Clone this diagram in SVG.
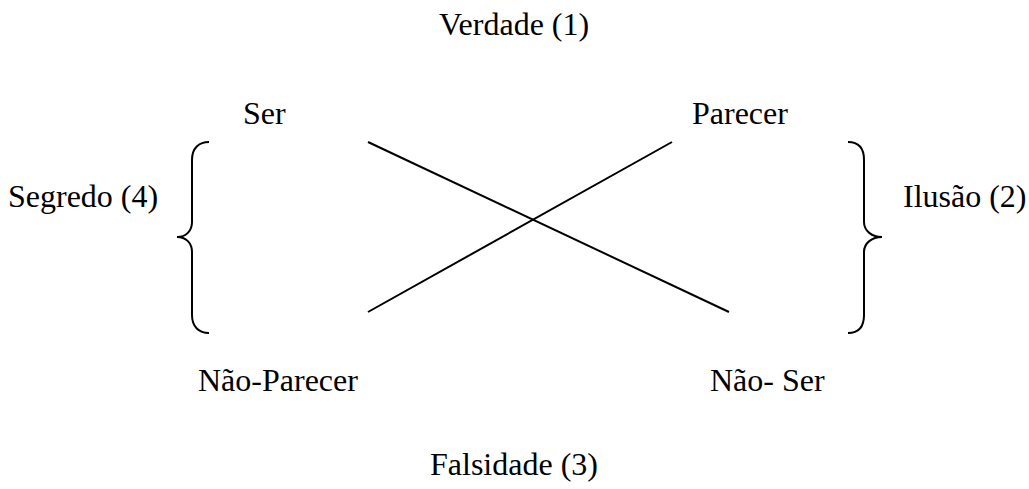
<svg xmlns="http://www.w3.org/2000/svg" width="1029" height="489" viewBox="0 0 1029 489">
<style>
text{font-family:"Liberation Serif","Times New Roman",serif;font-size:32px;fill:#000}
.ln{stroke:#000;stroke-width:2;fill:none}
</style>
<rect width="1029" height="489" fill="#fff"/>
<g id="verdade"><text x="439" y="35">Verdade (1)</text></g>
<g id="ser"><text x="243" y="124">Ser</text></g>
<g id="parecer"><text x="692" y="124">Parecer</text></g>
<g id="segredo"><text x="8" y="207">Segredo (4)</text></g>
<g id="ilusao"><text x="903" y="207">Ilusão (2)</text></g>
<g id="naoparecer"><text x="198" y="391">Não-Parecer</text></g>
<g id="naoser"><text x="710" y="391">Não- Ser</text></g>
<g id="falsidade"><text x="430" y="475">Falsidade (3)</text></g>
<g id="brace-left"><path class="ln" d="M209,142 C199,142 192,148 192,160 L192,222 C192,231 186,237 177,237 C186,237 192,243 192,252 L192,315 C192,327 199,333 209,333"/></g>
<g id="brace-right"><path class="ln" d="M848,142 C858,142 864,148 864,160 L864,222 C864,231 872,237 882,237 C872,237 864,243 864,252 L864,315 C864,327 858,333 848,333"/></g>
<g id="connectors">
<line class="ln" x1="368" y1="142" x2="729" y2="312"/>
<line class="ln" x1="672" y1="142" x2="368" y2="312"/>
</g>
</svg>
